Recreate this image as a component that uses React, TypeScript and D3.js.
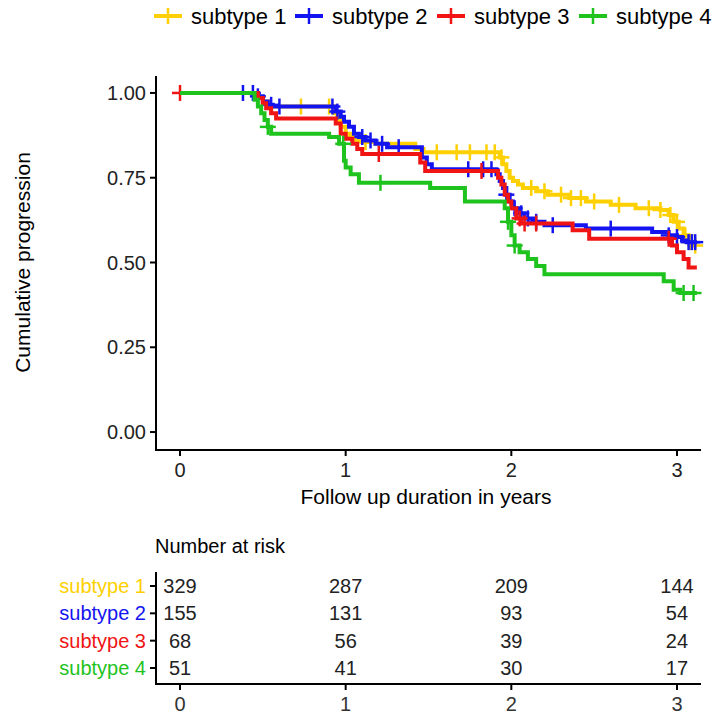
import * as d3 from "d3";

// ---- data ----
const groups = ["subtype 1", "subtype 2", "subtype 3", "subtype 4"];
const colors = ["#FFD000", "#1414F0", "#F01414", "#1EC31E"];

// step curves: time (years) and cumulative value after each step
const s1Time = [0, 0.45, 0.5, 0.53, 0.93, 0.95, 0.97, 1.0, 1.03, 1.06, 1.1, 1.18, 1.42, 1.47, 1.93, 1.95, 1.97, 1.99, 2.01, 2.04, 2.07, 2.15, 2.22, 2.35, 2.45, 2.6, 2.75, 2.9, 2.95, 2.98, 3.01, 3.04, 3.07, 3.1, 3.12];
const s1Surv = [1.0, 0.985, 0.975, 0.96, 0.94, 0.92, 0.9, 0.88, 0.87, 0.86, 0.855, 0.85, 0.835, 0.825, 0.81, 0.79, 0.77, 0.75, 0.74, 0.73, 0.72, 0.71, 0.7, 0.69, 0.68, 0.67, 0.66, 0.655, 0.64, 0.62, 0.6, 0.58, 0.56, 0.55, 0.55];
const s1Cens = [0.73, 0.9, 1.05, 1.12, 1.55, 1.67, 1.75, 1.85, 1.9, 1.94, 2.12, 2.2, 2.3, 2.36, 2.42, 2.5, 2.65, 2.83, 2.9, 2.96, 3.0, 3.05, 3.08, 3.11];

const s2Time = [0, 0.47, 0.5, 0.53, 0.56, 0.94, 0.97, 0.99, 1.02, 1.05, 1.08, 1.12, 1.18, 1.25, 1.46, 1.49, 1.52, 1.91, 1.93, 1.95, 1.97, 1.99, 2.01, 2.04, 2.08, 2.13, 2.2, 2.45, 2.85, 2.95, 3.0, 3.03, 3.06, 3.12];
const s2Surv = [1.0, 0.99, 0.975, 0.965, 0.96, 0.945, 0.93, 0.915, 0.9, 0.88, 0.87, 0.86, 0.85, 0.84, 0.81, 0.79, 0.775, 0.76, 0.74, 0.72, 0.7, 0.68, 0.66, 0.645, 0.63, 0.62, 0.61, 0.6, 0.59, 0.58, 0.575, 0.565, 0.56, 0.56];
const s2Cens = [0.38, 0.44, 0.47, 0.55, 0.6, 0.92, 0.95, 1.1, 1.15, 1.22, 1.32, 1.74, 1.83, 1.88, 1.97, 2.02, 2.06, 2.1, 2.15, 2.25, 2.6, 2.95, 3.0, 3.07, 3.09, 3.11];

const s3Time = [0, 0.47, 0.5, 0.52, 0.55, 0.58, 0.94, 0.97, 1.0, 1.04, 1.07, 1.1, 1.45, 1.48, 1.92, 1.94, 1.96, 1.98, 2.0, 2.03, 2.06, 2.37, 2.47, 2.97, 3.0, 3.04, 3.07, 3.12];
const s3Surv = [1.0, 0.985, 0.97, 0.955, 0.94, 0.925, 0.91, 0.88, 0.865, 0.85, 0.835, 0.82, 0.795, 0.77, 0.75, 0.73, 0.7, 0.68, 0.66, 0.63, 0.615, 0.595, 0.57, 0.55, 0.53, 0.51, 0.485, 0.485];
const s3Cens = [0.0, 1.2, 1.82, 2.05, 2.08, 2.15, 2.95];

const s4Time = [0, 0.45, 0.47, 0.49, 0.51, 0.53, 0.55, 0.9, 0.96, 0.99, 1.0, 1.03, 1.08, 1.51, 1.72, 1.96, 1.98, 2.0, 2.02, 2.05, 2.1, 2.15, 2.2, 2.92, 2.98, 3.02, 3.12];
const s4Surv = [1.0, 0.98, 0.96, 0.94, 0.92, 0.9, 0.88, 0.87, 0.85, 0.8, 0.78, 0.76, 0.735, 0.72, 0.68, 0.66, 0.62, 0.58, 0.55, 0.53, 0.51, 0.49, 0.465, 0.445, 0.42, 0.41, 0.41];
const s4Cens = [0.53, 0.985, 1.21, 1.98, 2.02, 3.04, 3.1];

const seriesTime = [s1Time, s2Time, s3Time, s4Time];
const seriesSurv = [s1Surv, s2Surv, s3Surv, s4Surv];
const seriesCens = [s1Cens, s2Cens, s3Cens, s4Cens];

const yTicks = [0, 0.25, 0.5, 0.75, 1];
const xTicks = [0, 1, 2, 3];

// number at risk at t = 0, 1, 2, 3
const risk1 = [329, 287, 209, 144];
const risk2 = [155, 131, 93, 54];
const risk3 = [68, 56, 39, 24];
const risk4 = [51, 41, 30, 17];
const riskRows = [risk1, risk2, risk3, risk4];

const W = 713;
const H = 715;
const FONT = "'Liberation Sans', Arial, Helvetica, sans-serif";
const FS = 20;

function valueAt(times: number[], surv: number[], t: number) {
  let v = surv[0];
  for (let i = 0; i < times.length; i++) {
    if (times[i] <= t) v = surv[i];
  }
  return v;
}

export default function App() {
  const x = d3.scaleLinear().domain([-0.145, 3.145]).range([156, 701]);
  const y = d3.scaleLinear().domain([-0.05, 1.05]).range([449, 76]);

  const line = d3
    .line<[number, number]>()
    .x((d) => x(d[0]))
    .y((d) => y(d[1]))
    .curve(d3.curveStepAfter);

  // risk table rows
  const rowY = d3.scalePoint<string>().domain(groups).range([586, 668]);
  const tableTop = 572;
  const tableAxisY = 684;

  const legendX = [154, 295, 437, 579];

  return (
    <svg width={W} height={H} style={{ position: "absolute", left: 0, top: 0, background: "#fff" }} fontFamily={FONT}>
      {/* legend */}
      {groups.map((g, i) => (
        <g key={g} transform={`translate(${legendX[i]},16)`}>
          <line x1={0} x2={28} y1={0} y2={0} stroke={colors[i]} strokeWidth={4} />
          <line x1={14} x2={14} y1={-8} y2={8} stroke={colors[i]} strokeWidth={2.5} />
          <text x={37} y={8} fontSize={22} fill="#000">{g}</text>
        </g>
      ))}

      {/* curves */}
      {groups.map((g, i) => {
        const pts = seriesTime[i].map((t, j) => [t, seriesSurv[i][j]] as [number, number]);
        return (
          <g key={g}>
            <path d={line(pts) ?? ""} fill="none" stroke={colors[i]} strokeWidth={4} />
            {seriesCens[i].map((c, k) => {
              const cx = x(c);
              const cy = y(valueAt(seriesTime[i], seriesSurv[i], c));
              return (
                <g key={k} stroke={colors[i]} strokeWidth={2.5}>
                  <line x1={cx - 8} x2={cx + 8} y1={cy} y2={cy} />
                  <line x1={cx} x2={cx} y1={cy - 8} y2={cy + 8} />
                </g>
              );
            })}
          </g>
        );
      })}

      {/* main axes */}
      <line x1={156} x2={156} y1={76} y2={450} stroke="#000" strokeWidth={2} />
      <line x1={155} x2={701} y1={450} y2={450} stroke="#000" strokeWidth={2} />
      {yTicks.map((t) => (
        <g key={t}>
          <line x1={150} x2={156} y1={y(t)} y2={y(t)} stroke="#000" strokeWidth={2} />
          <text x={146} y={y(t) + 7} fontSize={FS} textAnchor="end" fill="#222">{t.toFixed(2)}</text>
        </g>
      ))}
      {xTicks.map((t) => (
        <g key={t}>
          <line x1={x(t)} x2={x(t)} y1={450} y2={456} stroke="#000" strokeWidth={2} />
          <text x={x(t)} y={477} fontSize={FS} textAnchor="middle" fill="#222">{t}</text>
        </g>
      ))}
      <text x={426} y={504} fontSize={21} textAnchor="middle" fill="#000">Follow up duration in years</text>
      <text transform={`translate(30,${y(0.5)}) rotate(-90)`} fontSize={21} textAnchor="middle" fill="#000">Cumulative progression</text>

      {/* risk table */}
      <text x={155} y={553} fontSize={20} fill="#000">Number at risk</text>
      <line x1={156} x2={156} y1={tableTop} y2={tableAxisY} stroke="#000" strokeWidth={2} />
      <line x1={155} x2={701} y1={tableAxisY} y2={tableAxisY} stroke="#000" strokeWidth={2} />
      {groups.map((g, i) => (
        <g key={g}>
          <line x1={150} x2={156} y1={rowY(g)} y2={rowY(g)} stroke="#000" strokeWidth={2} />
          <text x={146} y={(rowY(g) ?? 0) + 7} fontSize={FS} textAnchor="end" fill={colors[i]}>{g}</text>
          {riskRows[i].map((n, k) => (
            <text key={k} x={x(xTicks[k])} y={(rowY(g) ?? 0) + 7} fontSize={FS} textAnchor="middle" fill="#222">{n}</text>
          ))}
        </g>
      ))}
      {xTicks.map((t) => (
        <g key={t}>
          <line x1={x(t)} x2={x(t)} y1={tableAxisY} y2={tableAxisY + 6} stroke="#000" strokeWidth={2} />
          <text x={x(t)} y={711} fontSize={FS} textAnchor="middle" fill="#333">{t}</text>
        </g>
      ))}
    </svg>
  );
}
